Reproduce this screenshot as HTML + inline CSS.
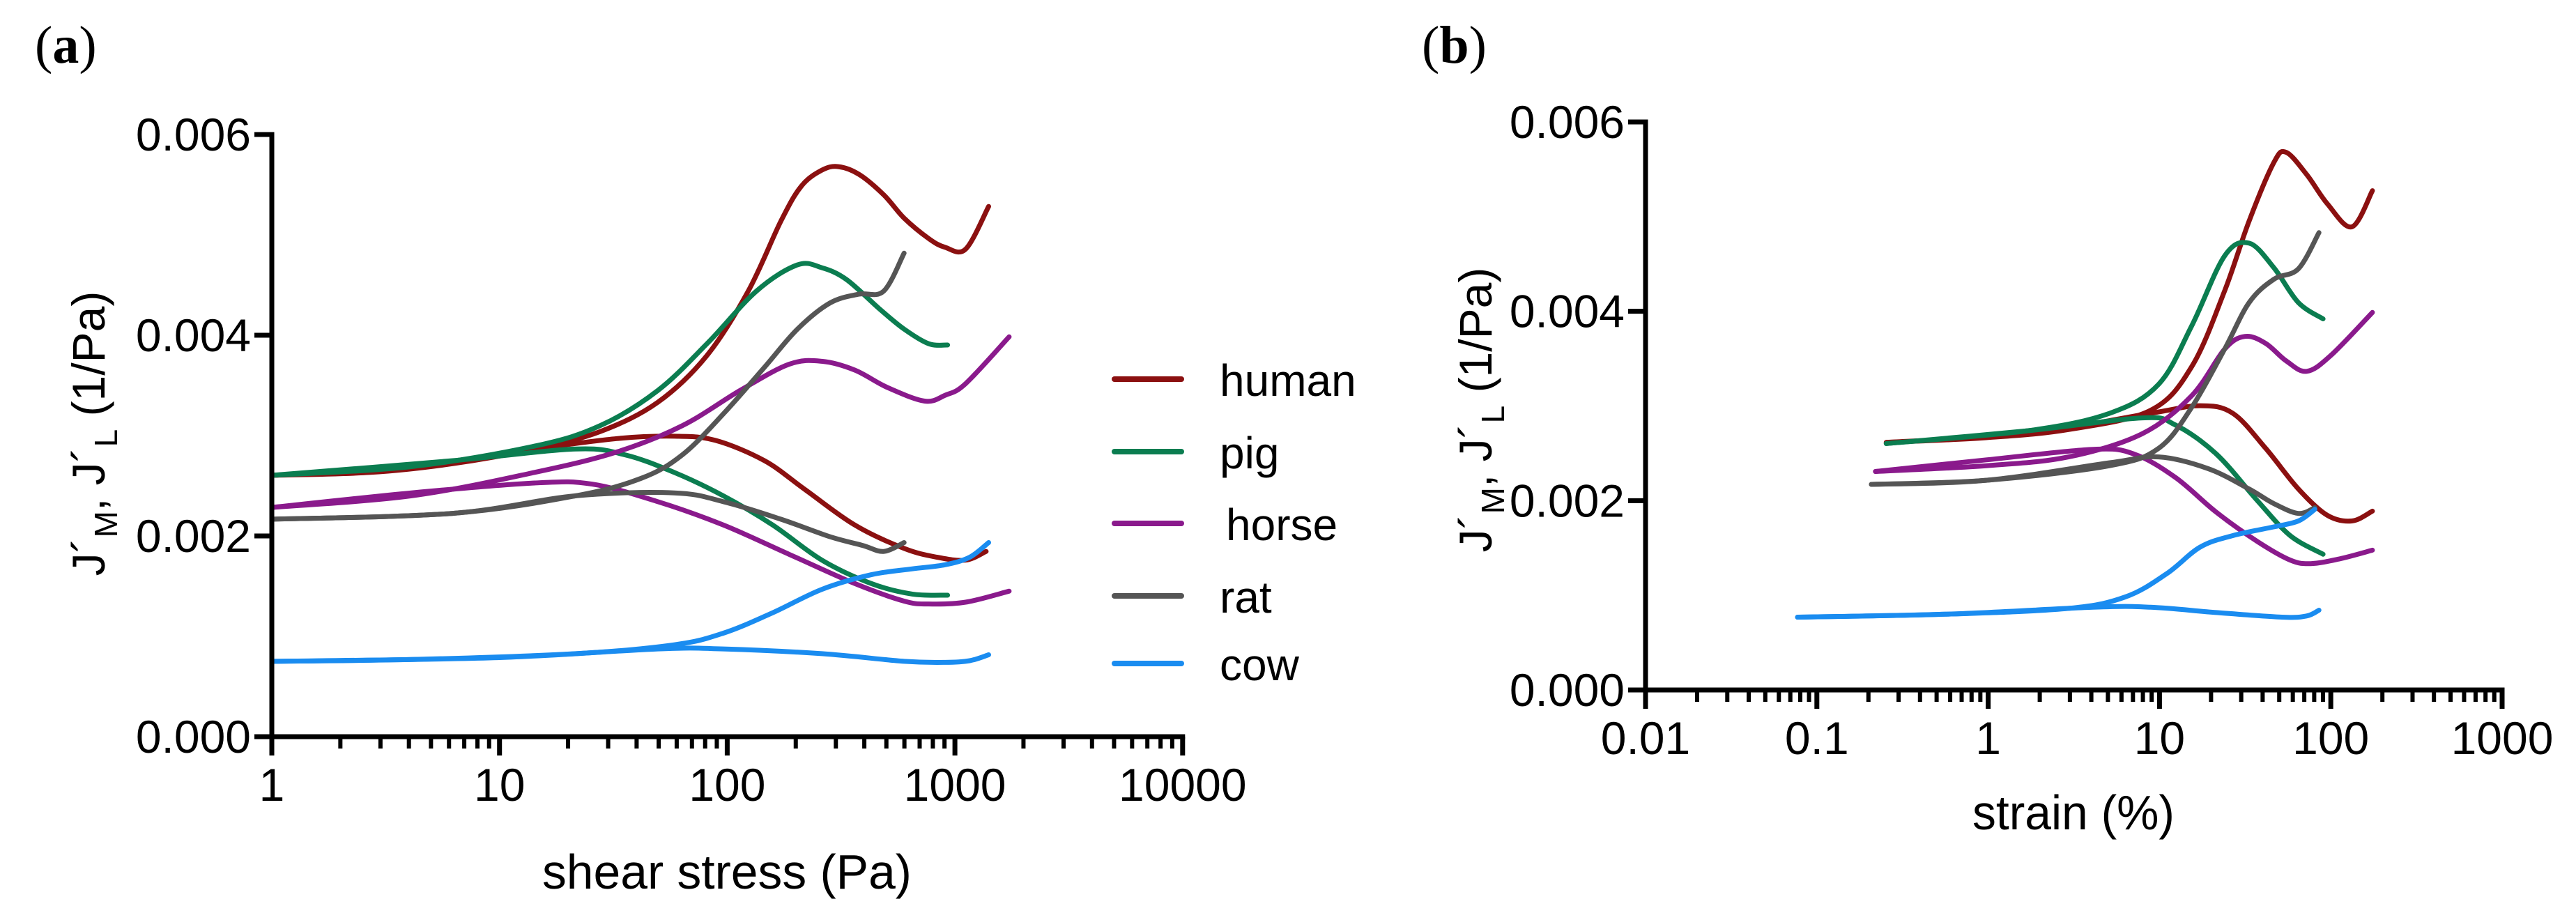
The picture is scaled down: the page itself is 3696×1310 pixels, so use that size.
<!DOCTYPE html>
<html><head><meta charset="utf-8"><style>
html,body{margin:0;padding:0;background:#fff;}
svg{display:block;}
text{font-family:"Liberation Sans",sans-serif;fill:#000;}
.tick{font-family:"Liberation Sans Narrow","Liberation Sans",sans-serif;font-size:66px;}
</style></head><body>
<svg id="fig" width="3696" height="1310" viewBox="0 0 3696 1310" xmlns="http://www.w3.org/2000/svg">
<text x="50" y="90" font-family="Liberation Serif,serif" font-size="76" style="font-family:'Liberation Serif',serif">(<tspan font-weight="bold">a</tspan>)</text>
<text x="2040" y="90" font-size="76" style="font-family:'Liberation Serif',serif">(<tspan font-weight="bold">b</tspan>)</text>
<g id="pa"></g>
<g id="pb"></g>
<g id="legend"></g>
</svg>
<script>
// Data (x in log10 units, y in 1/Pa)
const species = ["human","pig","horse","rat","cow"];
const colors = ["#8b1010","#0b7d50","#8a1a8c","#555555","#1a8cf0"];
// Panel a: shear stress (log10 Pa)
const aHumanUpX=[0,.433,.794,1.154,1.443,1.695,1.911,2.092,2.236,2.326,2.416,2.488,2.578,2.687,2.777,2.885,2.957,3.047,3.148];
const aHumanUpY=[.002604,.002633,.00272,.002866,.003041,.003332,.003798,.004439,.005138,.005487,.005645,.00568,.005604,.0054,.005167,.004963,.004876,.004858,.005283];
const aHumanLoX=[0,.613,1.154,1.515,1.767,1.947,2.164,2.344,2.56,2.777,2.921,3.047,3.137];
const aHumanLoY=[.002604,.002691,.002866,.00297,.002994,.002953,.002749,.002458,.002109,.001876,.001788,.001759,.001846];
const aPigUpX=[0,.613,1.154,1.443,1.695,1.911,2.128,2.308,2.416,2.524,2.668,2.777,2.885,2.968];
const aPigUpY=[.002604,.002691,.002895,.0031,.003449,.003915,.004439,.004701,.004672,.004555,.004264,.004061,.003915,.003903];
const aPigLoX=[0,.794,1.334,1.551,1.767,1.983,2.2,2.416,2.633,2.813,2.968];
const aPigLoY=[.002604,.00275,.002866,.002808,.002633,.0024,.002109,.001759,.001526,.001421,.00141];
const aHorseUpX=[0,.613,1.154,1.515,1.803,2.056,2.272,2.416,2.56,2.705,2.867,2.957,3.047,3.238];
const aHorseUpY=[.002284,.0024,.002633,.002837,.003099,.003449,.003711,.00374,.003653,.003478,.003344,.003402,.003518,.003984];
const aHorseLoX=[0,.613,1.154,1.406,1.695,1.983,2.272,2.56,2.777,2.885,3.047,3.238];
const aHorseLoY=[.002284,.002429,.002528,.002517,.002342,.002109,.001817,.001526,.001351,.001322,.00134,.00145];
const aRatUpX=[0,.794,1.334,1.623,1.803,1.983,2.164,2.308,2.452,2.578,2.687,2.777];
const aRatUpY=[.002167,.002225,.0024,.002575,.002808,.003216,.003682,.00406,.004322,.004409,.004439,.004818];
const aRatLoX=[0,.794,1.334,1.767,1.983,2.236,2.452,2.596,2.687,2.777];
const aRatLoY=[.002167,.002225,.0024,.002429,.002342,.002167,.001992,.001905,.001846,.001934];
const aCowUpX=[0,.613,1.334,1.767,1.983,2.2,2.416,2.633,2.813,2.957,3.065,3.148];
const aCowUpY=[.000751,.000769,.000827,.000915,.001031,.001235,.001468,.001614,.001672,.001713,.001788,.001934];
const aCowLoX=[0,.974,1.695,1.983,2.416,2.777,2.957,3.065,3.148];
const aCowLoY=[.000751,.000786,.000874,.000874,.000827,.000751,.00074,.000757,.000816];
// Panel b: strain (log10 %)
const bHumanUpX=[-.595,-.011,.469,.948,1.188,1.380,1.523,1.667,1.739,1.859,1.979,2.123,2.243];
const bHumanUpY=[.002615,.002665,.002751,.002954,.003415,.004215,.004954,.005569,.00568,.005446,.005138,.004892,.005274];
const bHumanLoX=[-.595,.229,.948,1.236,1.428,1.619,1.811,1.979,2.123,2.243];
const bHumanLoY=[.002615,.002708,.002923,.003003,.002923,.002554,.002123,.001846,.001785,.001889];
const bPigUpX=[-.595,.229,.709,.996,1.188,1.380,1.523,1.667,1.811,1.955];
const bPigUpY=[.002603,.002738,.002923,.003231,.003846,.004585,.00472,.004462,.004092,.00392];
const bPigLoX=[-.595,.229,.900,1.092,1.332,1.571,1.763,1.955];
const bPigLoY=[.002603,.002738,.002874,.0028,.002492,.002,.001631,.001434];
const bHorseUpX=[-.658,-.011,.469,.900,1.188,1.380,1.499,1.619,1.739,1.859,2.003,2.243];
const bHorseUpY=[.002308,.002369,.002462,.002708,.003108,.0036,.003735,.003662,.003477,.003366,.003538,.003988];
const bHorseLoX=[-.658,-.011,.613,.852,1.092,1.332,1.571,1.763,1.883,2.051,2.243];
const bHorseLoY=[.002308,.002431,.002542,.002492,.002246,.001877,.001569,.001372,.001335,.001385,.001477];
const bRatUpX=[-.682,-.011,.709,.996,1.188,1.380,1.523,1.667,1.811,1.931];
const bRatUpY=[.002172,.002215,.002369,.002554,.002985,.0036,.004092,.004338,.004449,.004831];
const bRatLoX=[-.682,-.011,.709,.996,1.284,1.523,1.667,1.811,1.907];
const bRatLoY=[.002172,.002215,.0024,.002462,.002338,.002123,.001969,.001865,.001926];
const bCowUpX=[-1.113,-.250,.469,.804,1.044,1.236,1.428,1.667,1.811,1.907];
const bCowUpY=[.000769,.0008,.000862,.000985,.001231,.001508,.001631,.001723,.001785,.001908];
const bCowLoX=[-1.113,-.250,.613,.948,1.332,1.715,1.859,1.931];
const bCowLoY=[.000769,.0008,.000874,.000874,.000818,.000769,.000782,.000843];
const yTickLabels=["0.000","0.002","0.004","0.006"];
const yTickVals=[0,0.002,0.004,0.006];
const aXTickLabels=["1","10","100","1000","10000"];
const bXTickLabels=["0.01","0.1","1","10","100","1000"];

const NS="http://www.w3.org/2000/svg";
function mk(p,t,a){const e=document.createElementNS(NS,t);for(const k in a)e.setAttribute(k,a[k]);p.appendChild(e);return e;}
function smooth(pts){let d=`M${pts[0][0]},${pts[0][1]}`;for(let i=0;i<pts.length-1;i++){const p0=pts[i-1]||pts[i],p1=pts[i],p2=pts[i+1],p3=pts[i+2]||p2;const c1=[p1[0]+(p2[0]-p0[0])/6,p1[1]+(p2[1]-p0[1])/6],c2=[p2[0]-(p3[0]-p1[0])/6,p2[1]-(p3[1]-p1[1])/6];d+=`C${c1[0].toFixed(1)},${c1[1].toFixed(1)} ${c2[0].toFixed(1)},${c2[1].toFixed(1)} ${p2[0].toFixed(1)},${p2[1].toFixed(1)}`;}return d;}

function panel(g,cfg){
  const X=v=>cfg.x0+(v-cfg.lmin)*cfg.dec;
  const Y=v=>cfg.y0-v/0.006*(cfg.y0-cfg.ytop);
  // series
  cfg.series.forEach((s,i)=>{
    const pts=s.x.map((v,j)=>[X(v),Y(s.y[j])]);
    const p=mk(g,"path",{d:smooth(pts),fill:"none",stroke:colors[s.c],"stroke-width":7,"stroke-linejoin":"round","stroke-linecap":"round"});
    
    
  });
  const xend=X(cfg.lmax);
  const ax=mk(g,"path",{d:`M${cfg.x0},${cfg.ytop} V${cfg.y0} H${xend}`,fill:"none",stroke:"#000","stroke-width":7,"stroke-linecap":"square"});
  
  
  yTickVals.forEach((v,i)=>{
    const y=Y(v);
    mk(g,"line",{x1:cfg.x0-25,x2:cfg.x0,y1:y,y2:y,stroke:"#000","stroke-width":7});
    const t=mk(g,"text",{x:cfg.x0-30,y:y+23,"text-anchor":"end",class:"tick"});
    t.textContent=yTickLabels[i];
    
    
  });
  cfg.xlabels.forEach((lab,i)=>{
    const d=cfg.lmin+i;const x=X(d);
    mk(g,"line",{x1:x,x2:x,y1:cfg.y0,y2:cfg.y0+27,stroke:"#000","stroke-width":7});
    if(i<cfg.xlabels.length-1){for(let m=2;m<=9;m++){const xm=X(d+Math.log10(m));mk(g,"line",{x1:xm,x2:xm,y1:cfg.y0,y2:cfg.y0+17,stroke:"#000","stroke-width":6});}}
    const t=mk(g,"text",{x:x,y:cfg.y0+92,"text-anchor":"middle",class:"tick"});
    t.textContent=lab;
    
    
  });
  const xt=mk(g,"text",{x:cfg.xtx,y:cfg.xty,"text-anchor":"middle","font-size":70,"textLength":cfg.xtl,"lengthAdjust":"spacingAndGlyphs"});
  xt.textContent=cfg.xtitle;
  
  
  const yt=mk(g,"text",{transform:`translate(${cfg.ytx},${cfg.yty}) rotate(-90)`,"text-anchor":"middle","font-size":66});
  yt.innerHTML='J´<tspan font-size="46" dy="18">M</tspan><tspan dy="-18">, J´</tspan><tspan font-size="46" dy="18">L</tspan><tspan dy="-18"> (1/Pa)</tspan>';
  
  
}
function ser(p){return [
 {x:p.hu[0],y:p.hu[1],c:0,name:"human-upper"},{x:p.hl[0],y:p.hl[1],c:0,name:"human-lower"},
 {x:p.pu[0],y:p.pu[1],c:1,name:"pig-upper"},{x:p.pl[0],y:p.pl[1],c:1,name:"pig-lower"},
 {x:p.ou[0],y:p.ou[1],c:2,name:"horse-upper"},{x:p.ol[0],y:p.ol[1],c:2,name:"horse-lower"},
 {x:p.ru[0],y:p.ru[1],c:3,name:"rat-upper"},{x:p.rl[0],y:p.rl[1],c:3,name:"rat-lower"},
 {x:p.cu[0],y:p.cu[1],c:4,name:"cow-upper"},{x:p.cl[0],y:p.cl[1],c:4,name:"cow-lower"}];}
panel(document.getElementById("pa"),{x0:390,dec:326.7,lmin:0,lmax:4,y0:1057,ytop:193,xlabels:aXTickLabels,
 xtitle:"shear stress (Pa)",xtx:1043,xty:1275,xtl:530,ytx:150,yty:622,
 series:ser({hu:[aHumanUpX,aHumanUpY],hl:[aHumanLoX,aHumanLoY],pu:[aPigUpX,aPigUpY],pl:[aPigLoX,aPigLoY],ou:[aHorseUpX,aHorseUpY],ol:[aHorseLoX,aHorseLoY],ru:[aRatUpX,aRatUpY],rl:[aRatLoX,aRatLoY],cu:[aCowUpX,aCowUpY],cl:[aCowLoX,aCowLoY]})});
panel(document.getElementById("pb"),{x0:2361,dec:245.8,lmin:-2,lmax:3,y0:990,ytop:175,xlabels:bXTickLabels,
 xtitle:"strain (%)",xtx:2975,xty:1190,xtl:290,ytx:2140,yty:588,
 series:ser({hu:[bHumanUpX,bHumanUpY],hl:[bHumanLoX,bHumanLoY],pu:[bPigUpX,bPigUpY],pl:[bPigLoX,bPigLoY],ou:[bHorseUpX,bHorseUpY],ol:[bHorseLoX,bHorseLoY],ru:[bRatUpX,bRatUpY],rl:[bRatLoX,bRatLoY],cu:[bCowUpX,bCowUpY],cl:[bCowLoX,bCowLoY]})});
// legend
const lg=document.getElementById("legend");
const legY=[544,648,751,855,952];
species.forEach((s,i)=>{
  const l=mk(lg,"line",{x1:1599,x2:1695,y1:legY[i],y2:legY[i],stroke:colors[i],"stroke-width":8,"stroke-linecap":"round"});
  
  
  const t=mk(lg,"text",{x:s==="horse"?1759:1750,y:legY[i]+24,"font-size":64});
  t.textContent=s;
  
  
});
</script>
</body></html>
